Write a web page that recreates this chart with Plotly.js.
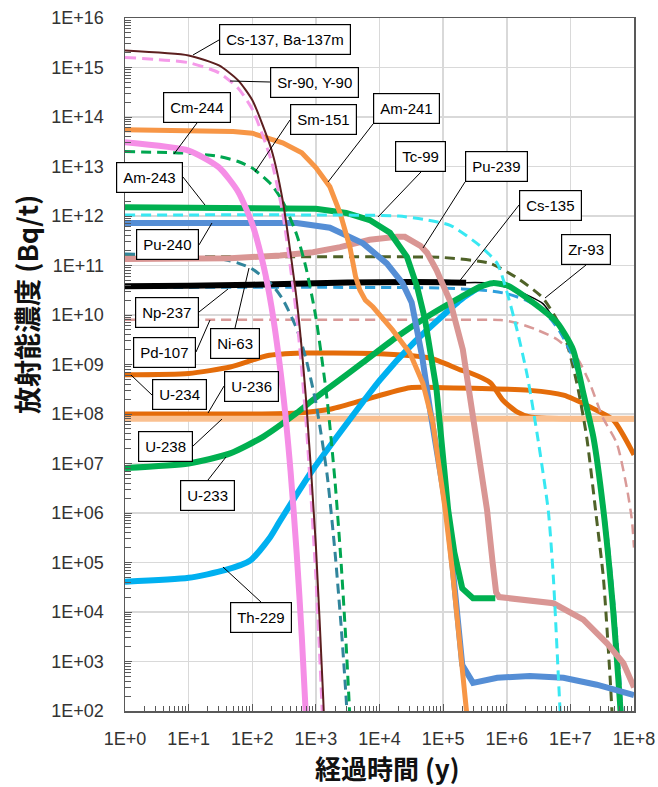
<!DOCTYPE html>
<html>
<head>
<meta charset="utf-8">
<script src="https://cdn.plot.ly/plotly-3.0.1.min.js"></script>
<style>
html,body{margin:0;padding:0;background:#fff;}
#chart{width:658px;height:787px;}
</style>
</head>
<body>
<div id="chart"></div>
<script>
// ---------- tick labels ----------
const xTickVals = [1, 1e1, 1e2, 1e3, 1e4, 1e5, 1e6, 1e7, 1e8];
const xTickText = ['1E+0','1E+1','1E+2','1E+3','1E+4','1E+5','1E+6','1E+7','1E+8'];
const yTickVals = [1e2,1e3,1e4,1e5,1e6,1e7,1e8,1e9,1e10,1e11,1e12,1e13,1e14,1e15,1e16];
const yTickText = ['1E+02','1E+03','1E+04','1E+05','1E+06','1E+07','1E+08','1E+09','1E+10','1E+11','1E+12','1E+13','1E+14','1E+15','1E+16'];

// ---------- series (time in years, activity in Bq/t) ----------
const t_U234 = [1,10,45,170,630,1660,1e4,6.2e4,1.86e5,2.63e5,5.5e5,8.7e5,1.45e6,2.3e6,1e7,1e8];
const a_U234 = [6.2e8,6.6e8,8.9e8,1.5e9,1.7e9,1.7e9,1.65e9,1.35e9,7.8e8,6.8e8,4.3e8,1.9e8,1.1e8,8.7e7,8e7,8e7];

const t_U236 = [1,10,100,500,1660,5500,3e4,1e5,2.3e6,7.8e6,2e7,4.7e7,1e8];
const a_U236 = [1e8,1e8,1e8,1.05e8,1.25e8,1.9e8,3.4e8,3.4e8,3e8,2.4e8,1.4e8,7.6e7,1.5e7];

const t_U238 = [1,1e2,1e4,1e6,1e8];
const a_U238 = [8e7,8e7,8e7,8e7,8e7];

const t_Pd107 = [1,1e5,8e5,1.45e6,3e6,6.2e6,1.26e7,2e7,3.2e7,5.4e7,7.8e7,9.3e7,1e8];
const a_Pd107 = [8e9,8e9,7.9e9,6.9e9,5e9,3.2e9,1.4e9,4.3e8,8.7e7,2.5e7,3e6,7e5,2e5];

const t_Zr93 = [1,1e4,1e5,5.5e5,1.45e6,3.7e6,7.8e6,1.26e7,1.8e7,2.6e7,3.3e7,4.2e7,4.6e7];
const a_Zr93 = [1.5e11,1.5e11,1.45e11,1.1e11,5.6e10,2.2e10,4.4e9,4.3e8,3.5e7,7e5,5e4,5e2,6e1];

const t_Cs135 = [1,1e5,5e5,1e6,2e6,3e6,5e6,7e6,1e7,1.5e7,2e7,3e7,4e7,5e7,6e7,7e7];
const a_Cs135 = [3.6e10,3.5e10,3.1e10,2.7e10,2e10,1.5e10,8e9,4.4e9,1.8e9,3.9e8,8.5e7,4.1e6,2e5,9e3,4.4e2,2e1];

const t_Np237 = [1,10,100,1000,1e4,1e5,2.3e5,5.5e5,1.45e6,3.7e6,6e6];
const a_Np237 = [3.8e10,3.9e10,4.1e10,4.4e10,4.6e10,4.6e10,4.5e10,4.4e10,3.1e10,1.7e10,7e9];

const t_Th229 = [1,10,37,93,190,275,890,3100,10200,3.4e4,1.86e5,2.63e5,3.8e5];
const a_Th229 = [4.1e4,4.9e4,7e4,1.1e5,3.2e5,7e5,7.4e6,6.6e7,4.9e8,2.7e9,2e10,2.75e10,3.7e10];

const t_U233 = [1,10,45,150,500,820,1660,5500,18600,6.2e4,1.9e5,3.8e5,6e5,1e6,2.3e6,6.2e6,1.1e7,1.6e7,2.3e7,3.3e7,4.7e7,6e7,6.5e7];
const a_U233 = [8.1e6,1e7,1.6e7,3.5e7,1.05e8,1.75e8,3.5e8,1.1e9,3.6e9,1e10,2.3e10,3.7e10,4.4e10,4e10,2e10,7e9,2e9,2.6e8,3.4e7,1.15e6,1.1e4,1.6e2,3e1];

const t_Ni63 = [1,10,30,60,100,200,300,500,700,1000,1500,2000,2500,3000,3300];
const a_Ni63 = [1.7e11,1.58e11,1.38e11,1.12e11,8.5e10,4.2e10,2.1e10,5.3e9,1.3e9,1.7e8,6e6,1.6e5,5e3,1.7e2,1.7e1];

const t_Pu239 = [1,45,275,900,2400,7000,18600,2.5e4,4.4e4,5.6e4,7.9e4,1.15e5,1.29e5,2.04e5,2.95e5,4.27e5,4.9e5,6e5,6.8e5,7.6e5,5.4e6,1.6e7,3.8e7,6.8e7,1e8];
const a_Pu239 = [1.35e11,1.4e11,1.6e11,1.85e11,2.35e11,3.3e11,3.8e11,3.8e11,2.5e11,1.8e11,8e10,2.8e10,1.9e10,2e9,1e8,4e6,1.15e6,1e5,2.5e4,2e4,1.5e4,7e3,2.3e3,9.3e2,3e2];

const t_Pu240 = [1,10,100,500,1660,5500,13000,23000,32000,47000,62000,89000,1.15e5,1.41e5,1.66e5,2e5,2.95e5,7.1e5,2.3e6,7.8e6,2.6e7,1e8];
const a_Pu240 = [7.2e11,7.3e11,7.4e11,7.2e11,5.8e11,2.8e11,1.1e11,4.4e10,1.8e10,1.4e9,1.26e8,8e6,1e6,8e4,8e3,8.5e2,3.7e2,4.7e2,5.1e2,4.7e2,3.4e2,2.1e2];

const t_Am243 = [1,100,1000,3000,7000,14600,27000,39000,52000,79000,1e5,1.2e5,1.5e5,1.86e5,2e5,2.95e5,6.6e5];
const a_Am243 = [1.5e12,1.5e12,1.4e12,1.15e12,8.3e11,4.6e11,1.5e11,3.7e10,8e9,3e8,1.26e7,1.15e6,1.6e5,4.5e4,3e4,1.9e4,1.9e4];

const t_Am241 = [1,10,50,100,300,600,1000,1660,2400,3440,4200,4900,6000,7900,16000,30000,48000,69000,89000,1.07e5,1.41e5,2e5,2.35e5,2.5e5];
const a_Am241 = [5.5e13,5.4e13,5.1e13,4.7e13,3.0e13,1.9e13,9.5e12,3.9e12,1.15e12,2.3e11,6e10,3.2e10,2e10,1.45e10,5e9,1.7e9,4.2e8,6.6e7,8e6,1.26e6,6.3e4,7e2,1e2,4e1];

const t_Tc99 = [1,1000,2e4,5e4,1.29e5,3.8e5,7.1e5,1e6,1.45e6,2.1e6,3e6,4.5e6,5.4e6,6.9e6,7.5e6];
const a_Tc99 = [1.05e12,1.05e12,1e12,8.5e11,6.5e11,2.5e11,1.1e11,3e10,5e9,6e8,4e7,1.1e6,5e4,1e2,2e1];

const t_Sm151 = [1,10,30,60,100,200,300,500,700,1000,1500,2000,2500,3000,3300,3500];
const a_Sm151 = [2e13,1.85e13,1.6e13,1.26e13,9.3e12,4.3e12,1.98e12,4.2e11,9e10,9e9,2e8,4.3e6,9.3e4,2e3,1.9e2,4e1];

const t_Cm244 = [1,10,30,60,100,150,200,300,400,500,600,700];
const a_Cm244 = [3.1e13,2.1e13,9.6e12,3.1e12,6.9e11,1e11,1.5e10,3.2e8,7e6,1.5e5,3.3e3,7e1];

const t_Sr90 = [1,10,30,60,100,200,300,500,700,1000,1300];
const a_Sr90 = [1.6e15,1.25e15,7.8e14,3.8e14,1.44e14,1.3e13,1.16e12,9e9,7e7,5e4,4e1];

const t_Cs137 = [1,10,30,60,100,200,300,500,700,1000,1300,1400];
const a_Cs137 = [2.2e15,1.75e15,1.1e15,5.5e14,2.2e14,2.2e13,2.1e12,2e10,2e8,2.2e5,2e2,2e1];

// ---------- styling ----------
function tr(name, t, a, color, width, dash, shape) {
  return {
    type: 'scatter', mode: 'lines', name: name, x: t, y: a,
    line: {color: color, width: width, dash: dash || 'solid', shape: shape || 'spline', smoothing: 0.6},
    hoverinfo: 'skip', showlegend: false
  };
}
const DASH = '10px,6px';
const npSplit = 7; // thick part / thin part of Np-237
const traces = [
  tr('U-234', t_U234, a_U234, '#e46c0a', 5),
  tr('U-236', t_U236, a_U236, '#e46c0a', 5),
  tr('U-238', t_U238, a_U238, '#fac090', 6, 'solid', 'linear'),
  tr('Pd-107', t_Pd107, a_Pd107, '#d99a98', 2.5, DASH),
  tr('Zr-93', t_Zr93, a_Zr93, '#4f6228', 3, DASH),
  tr('Cs-135', t_Cs135, a_Cs135, '#2e9fdc', 3, DASH),
  tr('Np-237', t_Np237.slice(0, npSplit), a_Np237.slice(0, npSplit), '#000000', 6),
  tr('Np-237b', t_Np237.slice(npSplit - 1), a_Np237.slice(npSplit - 1), '#000000', 1.5),
  tr('Th-229', t_Th229, a_Th229, '#00b0f0', 6),
  tr('U-233', t_U233, a_U233, '#00b050', 6),
  tr('Ni-63', t_Ni63, a_Ni63, '#31859c', 3, DASH),
  tr('Pu-239', t_Pu239, a_Pu239, '#d99694', 6, 'solid', 'linear'),
  tr('Pu-240', t_Pu240, a_Pu240, '#558ed5', 6, 'solid', 'linear'),
  tr('Am-243', t_Am243, a_Am243, '#00b050', 6, 'solid', 'linear'),
  tr('Am-241', t_Am241, a_Am241, '#f79646', 5, 'solid', 'linear'),
  tr('Tc-99', t_Tc99, a_Tc99, '#38e8f2', 3, DASH),
  tr('Sm-151', t_Sm151, a_Sm151, '#00a650', 3, DASH),
  tr('Cm-244', t_Cm244, a_Cm244, '#f58ee6', 6),
  tr('Sr-90, Y-90', t_Sr90, a_Sr90, '#f59ae9', 3, '11px,6px'),
  tr('Cs-137, Ba-137m', t_Cs137, a_Cs137, '#5c1f1f', 2)
];

// minor tick positions (2..9 within each decade)
function minors(d0, d1) {
  const out = [];
  for (let d = d0; d < d1; d++) for (let k = 2; k <= 9; k++) out.push(k * Math.pow(10, d));
  return out;
}

// label boxes: text, leader tip (log10 x, log10 y), offsets, anchors
const labels = [
  ['Cs-137, Ba-137m', 1.069, 15.253, 26, -15, 'left', 'middle'],
  ['Sr-90, Y-90', 1.650, 14.727, 40, 1, 'left', 'middle'],
  ['Sm-151', 2.043, 12.889, 35, -52, 'left', 'middle'],
  ['Cm-244', 0.770, 13.253, 23, -31, 'center', 'bottom'],
  ['Am-241', 3.191, 12.687, 45, -58, 'left', 'bottom'],
  ['Tc-99', 3.976, 11.980, 43, -45, 'center', 'bottom'],
  ['Pu-239', 4.684, 11.354, 42, -66, 'left', 'bottom'],
  ['Cs-135', 5.234, 10.646, 61, -78, 'left', 'middle'],
  ['Zr-93', 6.601, 10.343, 41, -33, 'center', 'bottom'],
  ['Am-243', 1.257, 12.222, -22, -28, 'right', 'middle'],
  ['Pu-240', 1.367, 11.859, -13, 22, 'right', 'middle'],
  ['Np-237', 1.619, 10.525, -29, 23, 'right', 'middle'],
  ['Pd-107', 1.336, 9.899, -14, 32, 'right', 'middle'],
  ['Ni-63', 1.949, 10.949, -14, 60, 'center', 'top'],
  ['U-234', 0.094, 8.788, 21, 20, 'left', 'middle'],
  ['U-236', 1.305, 8.020, 16, -27, 'left', 'middle'],
  ['U-238', 1.525, 7.899, -29, 27, 'right', 'middle'],
  ['U-233', 1.587, 7.131, -18, 23, 'center', 'top'],
  ['Th-229', 1.540, 4.909, 38, 35, 'center', 'top']
];

const annotations = labels.map(l => ({
  text: l[0], x: l[1], y: l[2], xref: 'x', yref: 'y',
  ax: l[3], ay: l[4], xanchor: l[5], yanchor: l[6],
  showarrow: true, arrowhead: 0, arrowwidth: 1, arrowcolor: '#000',
  bgcolor: '#ffffff', bordercolor: '#000', borderwidth: 1.2, borderpad: 6,
  font: {family: 'Liberation Sans, Arial, sans-serif', size: 15, color: '#000'}
}));

annotations.push({
  text: '<b>放射能濃度 (Bq/t)</b>', xref: 'paper', yref: 'paper', x: -0.1925, y: 0.586,
  xanchor: 'center', yanchor: 'middle', textangle: -90, showarrow: false,
  font: {family: 'Noto Sans CJK JP, sans-serif', size: 27, color: '#111'}
});
annotations.push({
  text: '<b>経過時間 (y)</b>', xref: 'paper', yref: 'paper', x: 0.514, y: -0.082,
  xanchor: 'center', yanchor: 'middle', showarrow: false,
  font: {family: 'Noto Sans CJK JP, sans-serif', size: 26, color: '#111'}
});

const tickFont = {family: 'Liberation Sans, Arial, sans-serif', size: 18, color: '#333'};
const layout = {
  width: 658, height: 787,
  margin: {l: 125, r: 24, t: 18, b: 76, pad: 0},
  paper_bgcolor: '#fff', plot_bgcolor: '#fff',
  showlegend: false,
  xaxis: {
    type: 'log', range: [0, 8], tickmode: 'array', tickvals: xTickVals, ticktext: xTickText,
    showgrid: true, gridcolor: '#d9d9d9', gridwidth: 1.5,
    showline: true, linecolor: '#595959', linewidth: 1.5, mirror: true,
    ticks: 'inside', ticklen: 7, tickcolor: '#595959', tickwidth: 1,
    ticklabelstandoff: 11, tickfont: tickFont, zeroline: false,
    minor: {tickmode: 'array', tickvals: minors(0, 8), ticks: 'inside', ticklen: 5, tickcolor: '#595959', showgrid: false}
  },
  yaxis: {
    type: 'log', range: [2, 16], tickmode: 'array', tickvals: yTickVals, ticktext: yTickText,
    showgrid: true, gridcolor: '#d9d9d9', gridwidth: 1.5,
    showline: true, linecolor: '#595959', linewidth: 1.5, mirror: true,
    ticks: 'inside', ticklen: 7, tickcolor: '#595959', tickwidth: 1,
    ticklabelstandoff: 16, tickfont: tickFont, zeroline: false,
    minor: {tickmode: 'array', tickvals: minors(2, 16), ticks: 'inside', ticklen: 6, tickcolor: '#595959', showgrid: false}
  },
  annotations: annotations
};

Plotly.newPlot('chart', traces, layout, {staticPlot: true, displayModeBar: false});
</script>
</body>
</html>
